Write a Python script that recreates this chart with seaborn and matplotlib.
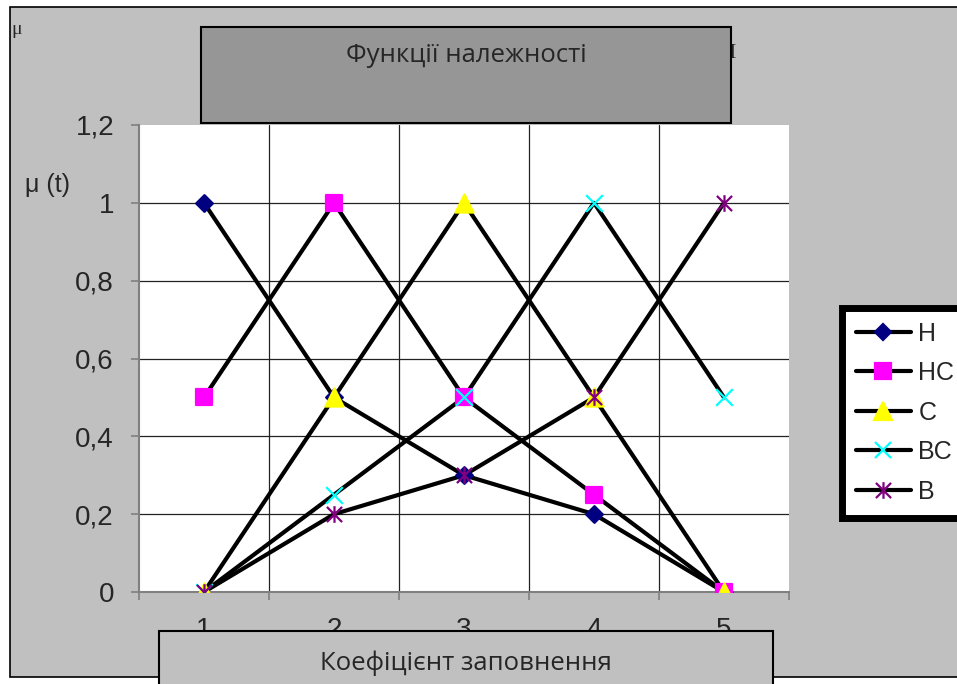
import matplotlib
matplotlib.use("Agg")
import matplotlib.pyplot as plt
from matplotlib.patches import Rectangle
from matplotlib.lines import Line2D
from matplotlib.path import Path
import seaborn as sns
import pandas as pd

# --- data ---
x_values = [1, 2, 3, 4, 5]
series_names = ['Н', 'НС', 'С', 'ВС', 'В']
mu_n = [1, 0.5, 0.3, 0.2, 0]
mu_ns = [0.5, 1, 0.5, 0.25, 0]
mu_s = [0, 0.5, 1, 0.5, 0]
mu_vs = [0, 0.25, 0.5, 1, 0.5]
mu_v = [0, 0.2, 0.3, 0.5, 1]
y_ticks = [0, 0.2, 0.4, 0.6, 0.8, 1.0, 1.2]
y_labels = ['0', '0,2', '0,4', '0,6', '0,8', '1', '1,2']
title = 'Функції належності'
x_title = 'Коефіцієнт заповнення'
y_title = 'μ (t)'

# excel-like asterisk marker: x with a vertical bar
star = Path([(-1, -1), (1, 1), (-1, 1), (1, -1), (0, -1.1), (0, 1.1)],
            [Path.MOVETO, Path.LINETO, Path.MOVETO, Path.LINETO, Path.MOVETO, Path.LINETO])

styles = {
    'Н': dict(marker='D', ms=8.5, color='#000080', filled=True),
    'НС': dict(marker='s', ms=12, color='#ff00ff', filled=True),
    'С': dict(marker='^', ms=13, color='#ffff00', filled=True),
    'ВС': dict(marker='x', ms=12, color='#00ffff', filled=False),
    'В': dict(marker=star, ms=12, color='#800080', filled=True),
}

df = pd.DataFrame({
    'x': x_values * 5,
    'mu': mu_n + mu_ns + mu_s + mu_vs + mu_v,
    'series': [n for n in series_names for _ in x_values],
})

sns.set_style("white")
plt.rcParams['font.family'] = ['Liberation Sans', 'DejaVu Sans']

W, H = 957, 684
fig = plt.figure(figsize=(W / 100, H / 100), dpi=100)
fig.patch.set_facecolor('white')


def fx(px):
    return px / W


def fy(py):
    return 1 - py / H


# grey chart area with border
fig.add_artist(Rectangle((fx(10), fy(677)), 960 / W, (677 - 7) / H, transform=fig.transFigure,
                         facecolor='#c0c0c0', edgecolor='black', lw=1.2, zorder=-10))

ax = fig.add_axes([fx(139), fy(592), (789 - 139) / W, (592 - 125) / H])
ax.set_facecolor('white')

# black lines for every series
sns.lineplot(data=df, x='x', y='mu', hue='series', hue_order=series_names,
             palette=['black'] * len(series_names), lw=3, estimator=None,
             sort=False, legend=False, ax=ax, zorder=2)

# coloured markers on top
for name in series_names:
    st = styles[name]
    d = df[df['series'] == name]
    kw = dict(marker=st['marker'], s=st['ms'] ** 2, color=st['color'], linewidth=1.6,
              legend=False, ax=ax, zorder=3)
    if st['filled']:
        kw['edgecolor'] = st['color']
    sns.scatterplot(x=d['x'], y=d['mu'], **kw)

ax.set_xlim(0.5, 5.5)
ax.set_ylim(0, 1.2)
ax.set_xlabel('')
ax.set_ylabel('')

ax.set_xticks(x_values)
ax.set_xticklabels([str(v) for v in x_values])
bounds = [v - 0.5 for v in x_values] + [x_values[-1] + 0.5]
ax.set_xticks(bounds, minor=True)
ax.set_yticks(y_ticks)
ax.set_yticklabels(y_labels)

ax.tick_params(axis='x', which='major', length=0, pad=18, labelsize=20)
ax.tick_params(axis='x', which='minor', length=6, width=1.2, color='#808080', direction='out')
ax.tick_params(axis='y', length=6, width=1.2, color='#808080', direction='out', pad=12, labelsize=20)
ax.tick_params(left=True, bottom=True, which='both')

for b in bounds[1:-1]:
    ax.axvline(b, color='#222222', lw=0.9, zorder=1)
for t in y_ticks[1:-1]:
    ax.axhline(t, color='#222222', lw=0.9, zorder=1)

for side in ['top', 'right']:
    ax.spines[side].set_visible(False)
for side in ['left', 'bottom']:
    ax.spines[side].set_color('#808080')
    ax.spines[side].set_linewidth(1.5)

# legend
handles = []
for name in series_names:
    st = styles[name]
    handles.append(Line2D([], [], color='black', lw=3, marker=st['marker'], markersize=st['ms'],
                          markerfacecolor=st['color'], markeredgecolor=st['color'], markeredgewidth=1.6))
leg = fig.legend(handles, series_names, loc='upper left', bbox_to_anchor=(fx(842), fy(308)),
                 fontsize=18, handlelength=2.2, handletextpad=0.3, labelspacing=0.62,
                 borderpad=0.55, borderaxespad=0, fancybox=False, edgecolor='black',
                 framealpha=1, facecolor='white')
leg.get_frame().set_linewidth(5)

# stray glyphs in the grey area
fig.text(fx(11), fy(30), 'μ', family=['Liberation Serif', 'DejaVu Serif'], fontsize=14,
         ha='left', va='center')
fig.text(fx(732), fy(54), 'I', family=['Liberation Serif', 'DejaVu Serif'], fontsize=16,
         ha='center', va='center', zorder=1)
fig.text(fx(25), fy(185), y_title, fontsize=18, ha='left', va='center')

# title box
fig.add_artist(Rectangle((fx(201), fy(123)), (731 - 201) / W, (123 - 27) / H, transform=fig.transFigure,
                         facecolor='#969696', edgecolor='black', lw=1.5, zorder=2))
fig.text(fx(466), fy(55), title, family=['Open Sans', 'DejaVu Sans'], fontsize=18.5,
         ha='center', va='center', zorder=3)

# x axis title box
fig.add_artist(Rectangle((fx(159), fy(700)), (773 - 159) / W, (700 - 631) / H, transform=fig.transFigure,
                         facecolor='#c0c0c0', edgecolor='black', lw=1.5, zorder=2))
fig.text(fx(466), fy(663), x_title, family=['Open Sans', 'DejaVu Sans'], fontsize=18.5,
         ha='center', va='center', zorder=3)

fig.savefig('out.png', dpi=100)
